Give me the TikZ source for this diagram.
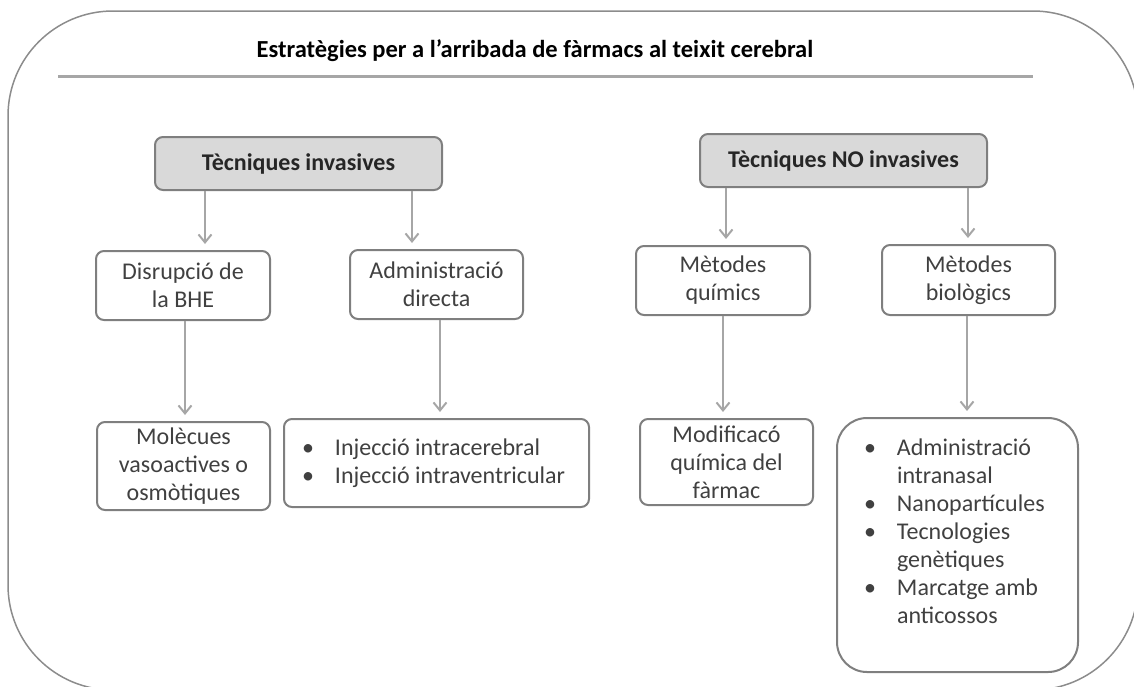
\documentclass[tikz,border=0pt]{standalone}
\usepackage{fontspec}
\setmainfont{Carlito}
\usetikzlibrary{arrows.meta}
\definecolor{framegray}{HTML}{8C8C8C}
\definecolor{rulegray}{HTML}{A6A6A6}
\definecolor{boxgray}{HTML}{7F7F7F}
\definecolor{headfill}{HTML}{D9D9D9}
\definecolor{arrowgray}{HTML}{A6A6A6}
\definecolor{txtgray}{HTML}{404040}
\definecolor{headtxt}{HTML}{262626}
\newcommand{\bitem}[1]{\makebox[33pt][l]{•}#1}
\newcommand{\bcont}[1]{\makebox[33pt][l]{}#1}
\tikzset{
  box/.style={draw=boxgray, line width=2pt, rounded corners=8pt, inner sep=0pt,
    text=txtgray, align=center, font=\fontsize{24}{28}\selectfont},
  headbox/.style={box, fill=headfill, text=headtxt, font=\fontsize{24}{28}\selectfont\bfseries},
  listbox/.style={box, align=flush left},
  arr/.style={draw=arrowgray, line width=2pt, shorten >=6pt,
    -{Straight Barb[length=8pt,width=13pt]}},
  titletext/.style={font=\fontsize{24.5}{28}\selectfont\bfseries, text=black, inner sep=0pt}
}
\begin{document}
\begin{tikzpicture}[x=1pt,y=-1pt]
\useasboundingbox (0,0) rectangle (1134,686);
% outer frame
\draw[framegray, line width=1.5pt, rounded corners=105pt] (8,11) rectangle (1138,690);
% title and rule
\node[titletext] (title) at (535,51) {Estratègies per a l’arribada de fàrmacs al teixit cerebral};
\draw[rulegray, line width=3pt] (58,76) -- (1033,76);
% header boxes
\node[headbox, minimum width=287pt, minimum height=53pt] (head1) at (298.5,163.5) {Tècniques invasives};
\node[headbox, minimum width=287pt, minimum height=53pt] (head2) at (843.5,160.5) {Tècniques NO invasives};
% second row
\node[box, minimum width=174pt, minimum height=69pt] (dis) at (183,285.5) {Disrupció de\\la BHE};
\node[box, minimum width=173pt, minimum height=69pt] (adm) at (436.5,284.5) {Administració\\directa};
\node[box, minimum width=174pt, minimum height=69pt] (met1) at (723,280.5) {Mètodes\\químics};
\node[box, minimum width=173pt, minimum height=70pt] (met2) at (968.5,280) {Mètodes\\biològics};
% third row
\node[box, minimum width=173pt, minimum height=88pt] (mol) at (183.5,466) {Molècues\\vasoactives o\\osmòtiques};
\node[listbox, text width=269pt, inner xsep=18pt, minimum height=88pt] (inj) at (436.5,463)
  {\bitem{Injecció intracerebral}\\\bitem{Injecció intraventricular}};
\node[box, minimum width=173pt, minimum height=86pt] (mod) at (726.5,462) {Modificacó\\química del\\fàrmac};
\node[listbox, rounded corners=30pt, text width=187pt, inner xsep=27pt, minimum height=254pt] (bio) at (957.5,545)
  {\bitem{Administració}\\\bcont{intranasal}\\\bitem{Nanopartícules}\\\bitem{Tecnologies}\\\bcont{genètiques}\\\bitem{Marcatge amb}\\\bcont{anticossos}\\\mbox{}};
% arrow columns
\coordinate (c1) at (205,0);
\coordinate (c2) at (412,0);
\coordinate (c3) at (726,0);
\coordinate (c4) at (968,0);
\coordinate (c5) at (185,0);
\coordinate (c6) at (440,0);
\coordinate (c7) at (723,0);
\coordinate (c8) at (967,0);
\draw[arr] (head1.south -| c1) -- (dis.north -| c1);
\draw[arr] (head1.south -| c2) -- (adm.north -| c2);
\draw[arr] (head2.south -| c3) -- (met1.north -| c3);
\draw[arr] (head2.south -| c4) -- (met2.north -| c4);
\draw[arr] (dis.south -| c5) -- (mol.north -| c5);
\draw[arr] (adm.south -| c6) -- (inj.north -| c6);
\draw[arr] (met1.south -| c7) -- (mod.north -| c7);
\draw[arr] (met2.south -| c8) -- (bio.north -| c8);
\end{tikzpicture}
\end{document}
